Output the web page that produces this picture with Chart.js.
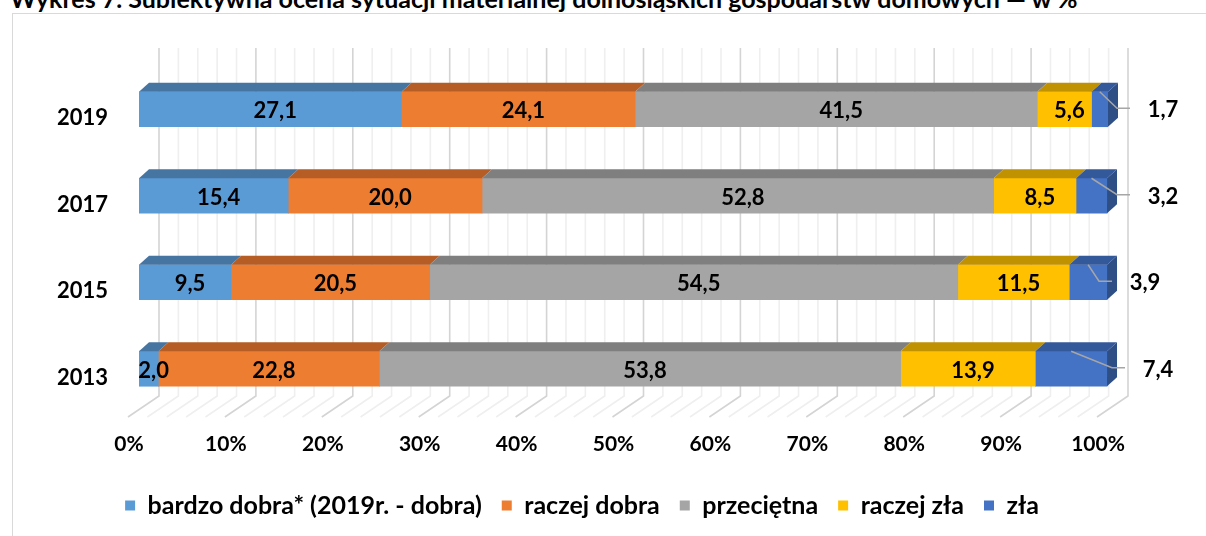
<!DOCTYPE html>
<html lang="pl">
<head>
<meta charset="utf-8">
<script src="https://cdn.jsdelivr.net/npm/chart.js@4.4.1/dist/chart.umd.min.js"></script>
<style>
  html, body { margin: 0; padding: 0; background: #fff; }
  #wrap { position: relative; width: 1206px; height: 536px; overflow: hidden; }
  #title {
    position: absolute; left: 10px; top: -17px; white-space: nowrap; line-height: 30px;
    font: bold 25px Lato, "Open Sans", sans-serif; color: #000;
  }
  #frame {
    position: absolute; left: 12px; top: 13px; width: 1400px; height: 700px;
    border: 1.5px solid #d9d9d9;
  }
  #chart { position: absolute; left: 0; top: 0; }
</style>
</head>
<body>
<div id="wrap">
  <div id="title">Wykres 7. Subiektywna ocena sytuacji materialnej dolnośląskich gospodarstw domowych — w %</div>
  <div id="frame"></div>
  <canvas id="chart" width="1206" height="536"></canvas>
</div>
<script>
// Subjective assessment of the financial situation, % of households
const years = ['2019', '2017', '2015', '2013'];
const seriesNames = ['bardzo dobra* (2019r. - dobra)', 'raczej dobra', 'przeciętna', 'raczej zła', 'zła'];
const bardzoDobra = [27.1, 15.4, 9.5, 2.0];
const raczejDobra = [24.1, 20.0, 20.5, 22.8];
const przecietna = [41.5, 52.8, 54.5, 53.8];
const raczejZla = [5.6, 8.5, 11.5, 13.9];
const zla = [1.7, 3.2, 3.9, 7.4];
const xTickLabels = ['0%', '10%', '20%', '30%', '40%', '50%', '60%', '70%', '80%', '90%', '100%'];

// face colours: front, top, side
const frontColors = ['#5b9bd5', '#ed7d31', '#a5a5a5', '#ffc000', '#4472c4'];
const topColors = ['#4675a2', '#b55d24', '#7f7f7f', '#c09100', '#34599a'];
const sideColors = ['#3f6a93', '#a35420', '#737373', '#ad8300', '#2e4e86'];

const FONT = 'Lato, "Open Sans", sans-serif';
const DEPTH_X = 10, DEPTH_Y = 9;      // bar depth
const WALL_X = 20;                    // back wall offset from bar front
const FLOOR_X = 31, FLOOR_Y = 21;     // floor depth
const outsideShift = [0, 0, -18, -5]; // Excel moved the small labels a bit

const allSeries = [bardzoDobra, raczejDobra, przecietna, raczejZla, zla];

const threeD = {
  id: 'threeD',
  beforeDatasetsDraw(chart) {
    const ctx = chart.ctx;
    const xs = chart.scales.x;
    const area = chart.chartArea;
    const wallTop = area.top - 18;
    const wallBottom = area.bottom - 16;
    ctx.save();
    ctx.lineWidth = 1.6;
    for (let v = 0; v <= 100; v += 2) {
      const xb = xs.getPixelForValue(v) + WALL_X;
      ctx.strokeStyle = v % 10 === 0 ? '#d4d4d4' : '#efefef';
      ctx.beginPath();
      ctx.moveTo(xb, wallTop);
      ctx.lineTo(xb, wallBottom);
      ctx.lineTo(xb - FLOOR_X, wallBottom + FLOOR_Y);
      ctx.stroke();
    }
    ctx.restore();
  },
  afterDatasetsDraw(chart) {
    const ctx = chart.ctx;
    const last = chart.data.datasets.length - 1;
    ctx.save();
    chart.data.datasets.forEach((ds, di) => {
      const meta = chart.getDatasetMeta(di);
      meta.data.forEach((bar) => {
        const p = bar.getProps(['x', 'y', 'base', 'height'], true);
        const x0 = Math.min(p.x, p.base), x1 = Math.max(p.x, p.base);
        const top = p.y - p.height / 2, bottom = p.y + p.height / 2;
        ctx.fillStyle = topColors[di];
        ctx.beginPath();
        ctx.moveTo(x0, top);
        ctx.lineTo(x0 + DEPTH_X, top - DEPTH_Y);
        ctx.lineTo(x1 + DEPTH_X, top - DEPTH_Y);
        ctx.lineTo(x1, top);
        ctx.closePath();
        ctx.fill();
        if (di === last) {
          ctx.fillStyle = sideColors[di];
          ctx.beginPath();
          ctx.moveTo(x1, top);
          ctx.lineTo(x1 + DEPTH_X, top - DEPTH_Y);
          ctx.lineTo(x1 + DEPTH_X, bottom - DEPTH_Y);
          ctx.lineTo(x1, bottom);
          ctx.closePath();
          ctx.fill();
        }
      });
    });

    // data labels
    ctx.font = 'bold 22px ' + FONT;
    ctx.fillStyle = '#000';
    ctx.textBaseline = 'middle';
    chart.data.datasets.forEach((ds, di) => {
      const meta = chart.getDatasetMeta(di);
      meta.data.forEach((bar, i) => {
        const p = bar.getProps(['x', 'y', 'base', 'height'], true);
        const txt = ds.data[i].toFixed(1).replace('.', ',');
        if (di === last) {
          const lx = 1163 + outsideShift[i];
          const ly = p.y;
          const startX = (p.x + p.base) / 2;
          const startY = p.y - p.height / 2;
          ctx.strokeStyle = '#a6a6a6';
          ctx.lineWidth = 1.5;
          ctx.beginPath();
          ctx.moveTo(startX, startY);
          ctx.lineTo(lx - 46, ly - 1);
          ctx.lineTo(lx - 33, ly - 1);
          ctx.stroke();
          ctx.textAlign = 'center';
          ctx.fillText(txt, lx, ly + 1);
        } else {
          ctx.textAlign = 'center';
          ctx.fillText(txt, (p.x + p.base) / 2 + 5, p.y + 2);
        }
      });
    });
    ctx.restore();
  }
};

new Chart(document.getElementById('chart'), {
  type: 'bar',
  data: {
    labels: years,
    datasets: allSeries.map((values, i) => ({
      label: seriesNames[i],
      data: values,
      backgroundColor: frontColors[i],
      borderWidth: 0,
      barThickness: 35
    }))
  },
  options: {
    indexAxis: 'y',
    responsive: false,
    animation: false,
    layout: { padding: { top: 66, right: 98, left: 56, bottom: 8 } },
    scales: {
      x: {
        type: 'linear',
        stacked: true,
        min: 0,
        max: 100,
        ticks: {
          stepSize: 10,
          callback: (v, idx) => xTickLabels[idx],
          labelOffset: -10,
          padding: 20,
          color: '#000',
          font: { family: FONT, size: 21, weight: 'bold' }
        },
        grid: { display: false, drawTicks: false },
        border: { display: false },
        afterFit: (s) => { s.height = 61; }
      },
      y: {
        stacked: true,
        ticks: {
          labelOffset: 9,
          padding: 31,
          color: '#000',
          font: { family: FONT, size: 22, weight: 'bold' }
        },
        grid: { display: false, drawTicks: false },
        border: { display: false },
        afterFit: (s) => { s.width = 83; }
      }
    },
    plugins: {
      legend: {
        position: 'bottom',
        labels: {
          boxWidth: 10,
          boxHeight: 10,
          padding: 20,
          color: '#000',
          font: { family: FONT, size: 25, weight: 'bold' }
        }
      },
      tooltip: { enabled: false }
    }
  },
  plugins: [threeD]
});
</script>
</body>
</html>
